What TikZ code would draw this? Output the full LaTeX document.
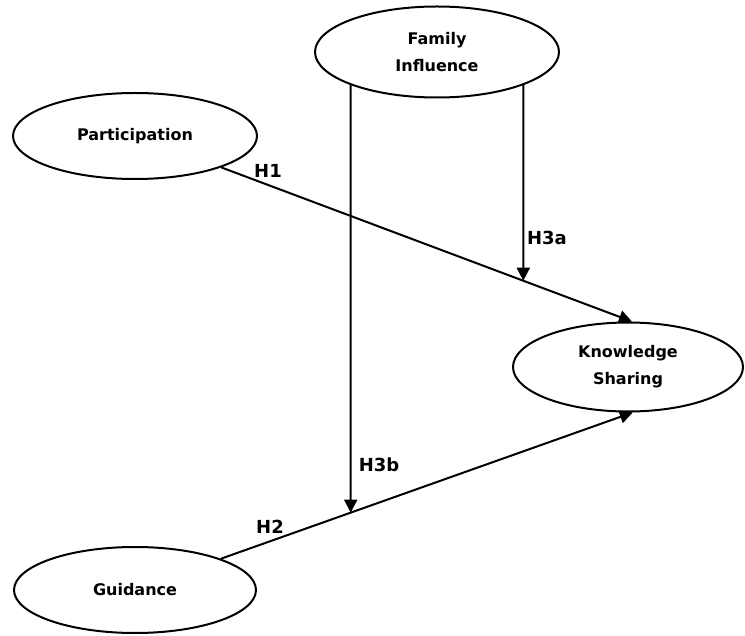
\documentclass[tikz,border=0pt]{standalone}
\usepackage{fontspec}
\setmainfont{DejaVu Sans}
\usetikzlibrary{shapes.geometric,arrows.meta,intersections}
\begin{document}
\begin{tikzpicture}[x=1pt,y=1pt,
  construct/.style={ellipse,draw,line width=2pt,inner sep=0pt,align=center,
    font=\fontsize{16}{27}\selectfont\bfseries},
  link/.style={line width=2pt,-{Triangle[length=13pt,width=13pt]}},
  hlabel/.style={font=\fontsize{18}{20}\selectfont\bfseries,inner sep=0pt}]
\useasboundingbox (0,0) rectangle (745,-636);
\node[construct,minimum width=244pt,minimum height=91pt] (FI) at (437,-52) {Family\\Influence};
\node[construct,minimum width=244pt,minimum height=86pt] (P) at (135,-136) {Participation};
\node[construct,minimum width=230pt,minimum height=89pt] (K) at (628,-367) {Knowledge\\Sharing};
\node[construct,minimum width=242pt,minimum height=86pt] (G) at (135,-590) {Guidance};
\draw[link,name path=h1] (P.-20.6) -- (K.85);
\draw[link,name path=h2] (G.20.2) -- (K.-84);
\path[name path=v1] (FI.-21.7) -- ++(0,-400);
\path[name path=v2] (FI.201.2) -- ++(0,-600);
\path[name intersections={of=h1 and v1,by=ia}];
\path[name intersections={of=h2 and v2,by=ib}];
\draw[link] (FI.-21.7) -- (ia);
\draw[link] (FI.201.2) -- (ib);
\node[hlabel] (l1) at (268,-171) {H1};
\node[hlabel] (l2) at (270,-527) {H2};
\node[hlabel] (l3a) at (547,-238) {H3a};
\node[hlabel] (l3b) at (379,-465) {H3b};
\end{tikzpicture}
\end{document}
